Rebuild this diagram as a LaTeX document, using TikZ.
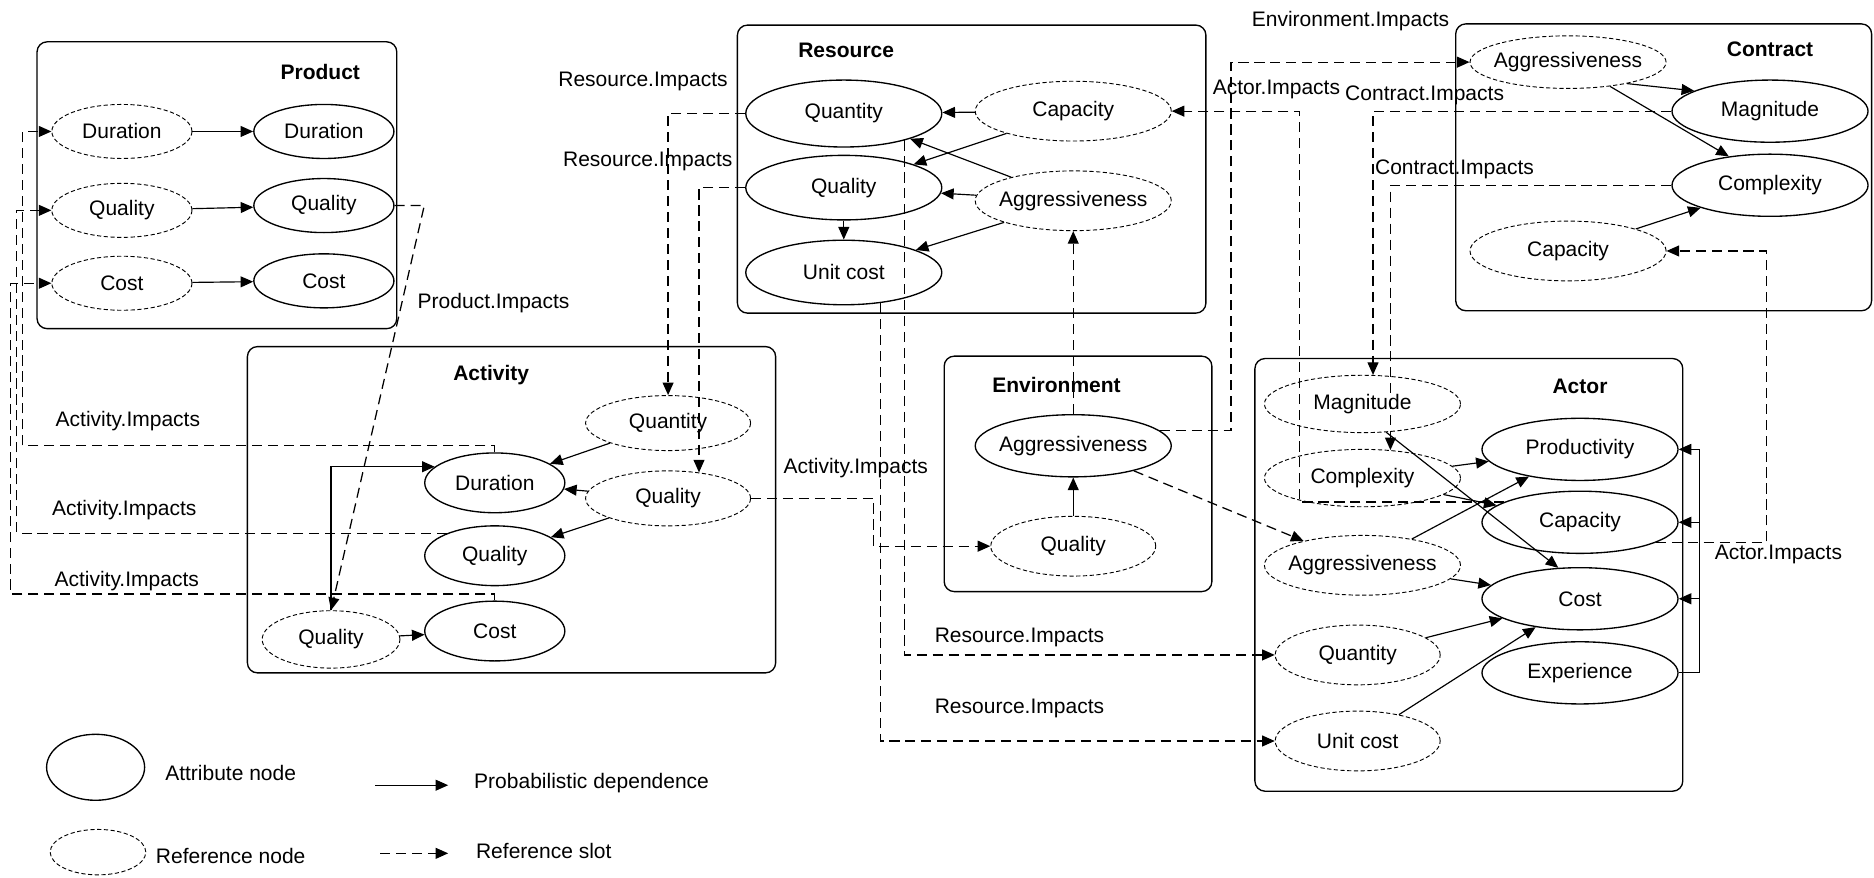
\documentclass[tikz,border=0pt]{standalone}
\usepackage{fontspec}
\setmainfont{Liberation Sans}
\usetikzlibrary{shapes.geometric,arrows.meta}
\begin{document}
\begin{tikzpicture}[x=0.025cm,y=-0.025cm,
     every node/.style={font=\fontsize{12.5}{15}\selectfont},
     attr/.style={draw,ellipse,line width=0.8pt,inner xsep=-6pt,inner ysep=0pt,minimum width=4.1cm,minimum height=1.3cm},
     refn/.style={draw,ellipse,dash pattern=on 2.5pt off 1.5pt,line width=0.55pt,inner xsep=-6pt,inner ysep=0pt,minimum width=4.1cm,minimum height=1.25cm},
     frame/.style={draw,rounded corners=6pt,line width=0.8pt},
     title/.style={font=\fontsize{12.5}{15}\selectfont\bfseries},
     dep/.style={-{Triangle[length=7.5pt,width=6.5pt]},line width=0.7pt},
     slot/.style={-{Triangle[length=7.5pt,width=6.5pt]},dash pattern=on 6pt off 3.5pt,line width=0.75pt}
     ]
\useasboundingbox (0,0) rectangle (1568,734);

%Product class
\draw[frame] (31,35) rectangle (332,275);
\node[title] (tProd) at (268,60) {Product};
\foreach \nm/\yr/\ya [count=\i] in {Duration/110/110,Quality/176/172,Cost/237/235}
{
  \node (pr\i) at (102,\yr) [refn,minimum width=2.93cm,minimum height=1.13cm] {\nm};
  \node (pa\i) at (271,\ya) [attr,minimum width=2.93cm,minimum height=1.13cm] {\nm};
  \draw[dep] (pr\i) -- (pa\i);
}

%Activity class
\draw[frame] (207,290) rectangle (649,563);
\node[title] (tAct) at (411,314) {Activity};
\node (aQtyR) at (559,354) [refn,minimum width=3.45cm,minimum height=1.15cm] {Quantity};
\node (aQualR) at (559,417) [refn,minimum width=3.45cm,minimum height=1.15cm] {Quality};
\node (aDurA) at (414,404) [attr,minimum width=2.93cm,minimum height=1.25cm] {Duration};
\node (aQualA) at (414,465) [attr,minimum width=2.93cm,minimum height=1.25cm] {Quality};
\node (aCostA) at (414,528) [attr,minimum width=2.93cm,minimum height=1.25cm] {Cost};
\node (aQualR2) at (277,535) [refn,minimum width=2.88cm,minimum height=1.2cm] {Quality};
\draw[dep] (aQtyR) -- (aDurA);
\draw[dep] (aQualR) -- (aDurA);
\draw[dep] (aQualR) -- (aQualA);
\draw[dep] (aQualR2) -- (aCostA);
\draw[dep] (aQualR2.north) |- (aDurA.165);

%Resource class
\draw[frame] (617,21) rectangle (1009,262);
\node[title] (tRes) at (708,42) {Resource};
\node (rQtyA) at (706,95) [attr,minimum height=1.4cm] {Quantity};
\node (rQualA) at (706,157) [attr,minimum height=1.35cm] {Quality};
\node (rUcA) at (706,228) [attr,minimum height=1.35cm] {Unit cost};
\node (rCapR) at (898,93) [refn] {Capacity};
\node (rAggR) at (898,168) [refn] {Aggressiveness};
\draw[dep] (rCapR) -- (rQtyA);
\draw[dep] (rCapR) -- (rQualA);
\draw[dep] (rAggR) -- (rQtyA);
\draw[dep] (rAggR) -- (rQualA);
\draw[dep] (rAggR) -- (rUcA);
\draw[dep] (rQualA) -- (rUcA);

%Environment class
\draw[frame] (790,298) rectangle (1014,495);
\node[title] (tEnv) at (884,322) {Environment};
\node (eAggA) at (898,373) [attr] {Aggressiveness};
\node (eQualR) at (898,457) [refn,minimum width=3.45cm] {Quality};
\draw[dep] (eQualR) -- (eAggA);

%Contract class
\draw[frame] (1218,20) rectangle (1566,260);
\node[title] (tCon) at (1481,41) {Contract};
\node (cAggR) at (1312,52) [refn,minimum height=1.1cm] {Aggressiveness};
\node (cMagA) at (1481,93) [attr] {Magnitude};
\node (cCompA) at (1481,155) [attr] {Complexity};
\node (cCapR) at (1312,210) [refn] {Capacity};
\draw[dep] (cAggR.-20) -- (cMagA.165);
\draw[dep] (cAggR.-30) -- (cCompA.145);
\draw[dep] (cCapR) -- (cCompA);

%Actor class
\draw[frame] (1050,300) rectangle (1408,662);
\node[title] (tActor) at (1322,323) {Actor};
\node (acMagR) at (1140,338) [refn,minimum height=1.2cm] {Magnitude};
\node (acCompR) at (1140,400) [refn,minimum height=1.2cm] {Complexity};
\node (acAggR) at (1140,473) [refn] {Aggressiveness};
\node (acQtyR) at (1136,548) [refn,minimum width=3.45cm] {Quantity};
\node (acUcR) at (1136,620) [refn,minimum width=3.45cm] {Unit cost};
\node (acProdA) at (1322,376) [attr] {Productivity};
\node (acCapA) at (1322,437) [attr] {Capacity};
\node (acCostA) at (1322,501) [attr] {Cost};
\node (acExpA) at (1322,563) [attr] {Experience};
\draw[dep] (acCompR) -- (acProdA);
\draw[dep] (acCompR) -- (acCapA);
\draw[dep] (acAggR) -- (acProdA);
\draw[dep] (acAggR) -- (acCostA);
\draw[dep] (acQtyR) -- (acCostA);
\draw[dep] (acUcR) -- (acCostA);
\draw[dep] (acMagR.-50) -- (acCostA.125);
\coordinate (acBus) at (1422,0);
\foreach \t in {acProdA,acCapA,acCostA}
  \draw[dep] (acExpA.east) -| (acBus |- \t.east) -- (\t.east);

%Reference slots
\coordinate (pBend) at (355,172);
\draw[slot] (pa2.east) -- (pBend) -- (aQualR2.north);
\draw[slot] (aDurA.north) |- (19,373) |- (pr1.west);
\draw[slot] (aQualA.155) -| (14,176) -- (pr2.west);
\draw[slot] (aCostA.north) |- (9,497) |- (pr3.west);
\draw[slot] (rQtyA.west) -| (aQtyR.north);
\draw[slot] (rQualA.west) -| (aQualR.40);
\draw[slot] (rQtyA.-24) |- (acQtyR.west);
\draw[slot] (rUcA.-40) |- (acUcR.west);
\draw[slot] (aQualR.east) -- (731,417) |- (eQualR.west);
\draw[slot] (eAggA.north) -- (rAggR.south);
\draw[slot] (eAggA) -- (acAggR);
\coordinate (envBend) at (1030,0);
\draw[slot] (eAggA.10) -| (envBend |- cAggR.west) -- (cAggR.west);
\coordinate (actBendL) at (1087,0);
\coordinate (actBendR) at (1478,0);
\draw[slot] (acCapA.165) -| (actBendL |- rCapR.east) -- (rCapR.east);
\draw[slot] (acCapA.-15) -| (actBendR |- cCapR.east) -- (cCapR.east);
\draw[slot] (cMagA.west) -| (acMagR.70);
\draw[slot] (cCompA.west) -| (acCompR.45);

%Slot labels
\node (lPI) at (413,254) {Product.Impacts};
\node (lAI1) at (107,352) {Activity.Impacts};
\node (lAI2) at (104,427) {Activity.Impacts};
\node (lAI3) at (106,486) {Activity.Impacts};
\node (lAI4) at (716,392) {Activity.Impacts};
\node (lRI1) at (538,68) {Resource.Impacts};
\node (lRI2) at (542,135) {Resource.Impacts};
\node (lRI3) at (853,533) {Resource.Impacts};
\node (lRI4) at (853,593) {Resource.Impacts};
\node (lEI) at (1130,18) {Environment.Impacts};
\node (lAcI1) at (1068,75) {Actor.Impacts};
\node (lAcI2) at (1488,464) {Actor.Impacts};
\node (lCI1) at (1192,80) {Contract.Impacts};
\node (lCI2) at (1217,142) {Contract.Impacts};

%Legend
\node (lgAttr) at (80,642) [attr,minimum width=2.05cm,minimum height=1.38cm] {};
\node (lgAttrT) at (193,647) {Attribute node};
\node (lgRef) at (82,713) [refn,minimum width=2cm,minimum height=0.95cm] {};
\node (lgRefT) at (193,716) {Reference node};
\coordinate (lgDepA) at (314,657);
\coordinate (lgDepB) at (375,657);
\draw[dep] (lgDepA) -- (lgDepB);
\node (lgDepT) at (495,655) {Probabilistic dependence};
\coordinate (lgSlotA) at (318,714);
\coordinate (lgSlotB) at (375,714);
\draw[slot] (lgSlotA) -- (lgSlotB);
\node (lgSlotT) at (455,712) {Reference slot};
\end{tikzpicture}
\end{document}
